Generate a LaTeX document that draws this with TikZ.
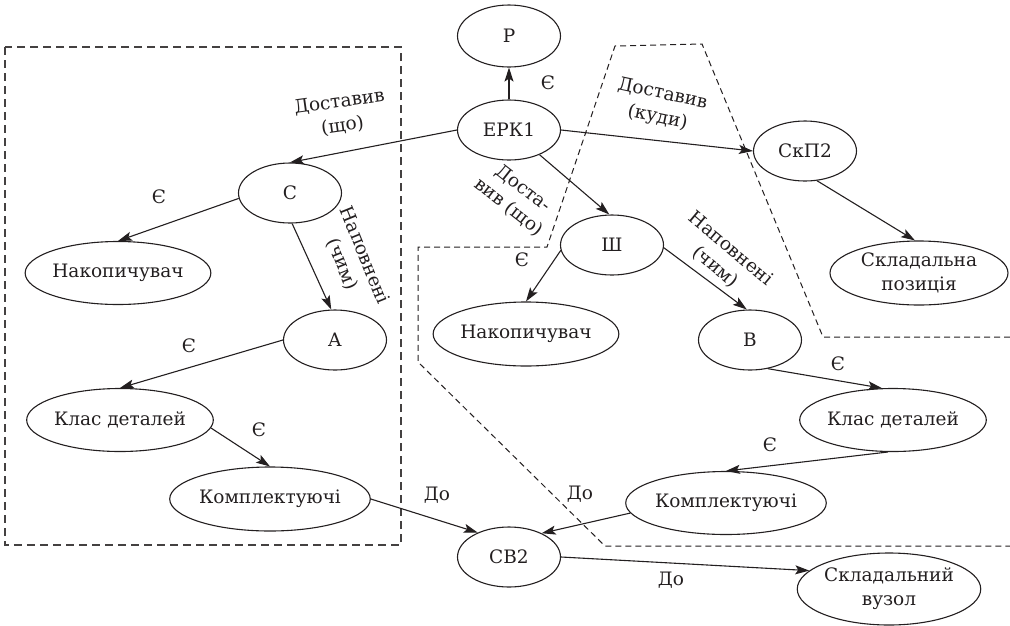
\documentclass[tikz,border=0pt]{standalone}
\usepackage{fontspec}
\setmainfont{DejaVu Serif}
\usetikzlibrary{shapes.geometric,arrows.meta}
\definecolor{ink}{HTML}{231F20}
\begin{document}
\begin{tikzpicture}[x=1pt,y=-1pt,
  font=\fontsize{18.5}{24}\selectfont,
  every node/.style={text=ink},
  concept/.style={draw=ink,line width=1.1pt,ellipse,inner sep=0pt,align=center},
  small/.style={concept,minimum width=103pt,minimum height=60pt},
  wide/.style={concept,minimum width=182pt,minimum height=63pt},
  link/.style={draw=ink,line width=1.1pt,-{Stealth[length=14pt,width=9pt,inset=3pt]}},
  lbl/.style={inner sep=0pt,align=center},
  zoneA/.style={draw=ink!85,line width=1.3pt,dash pattern=on 8pt off 5pt},
  zoneB/.style={draw=ink,line width=1pt,dash pattern=on 6pt off 4pt}]
\useasboundingbox (0,0) rectangle (1010,625);

% dashed zones
\draw[zoneA] (5,47) rectangle (401,545);
\draw[zoneB] (1010,337) -- (823,337) -- (702,44) -- (615,46) -- (547,247)
  -- (418,247) -- (418,362) -- (605,546) -- (1010,546);

% concepts
\node[small,minimum height=62pt] (p) at (509,36) {Р};
\node[small] (erk) at (509,130) {ЕРК1};
\node[small] (c) at (290,193) {С};
\node[wide] (nakl) at (118,273) {Накопичувач};
\node[small] (a) at (335,340) {А};
\node[wide] (klasl) at (120,420) {Клас деталей};
\node[wide,minimum height=64pt] (kompl) at (270,499) {Комплектуючі};
\node[small] (cb) at (509,557) {СВ2};
\node[small] (skp) at (805,151) {СкП2};
\node[wide,minimum width=178pt,minimum height=64pt] (pos) at (919,273) {Складальна\\позиція};
\node[small] (sh) at (612,245) {Ш};
\node[wide,minimum height=64pt] (nakm) at (526,334) {Накопичувач};
\node[small] (b) at (750,340) {В};
\node[wide] (klasr) at (893,420) {Клас деталей};
\node[wide] (kompr) at (726,503) {Комплектуючі};
\node[wide,minimum height=72pt] (vuz) at (889,589) {Складальний\\вузол};

% relations
\draw[link] (erk.north) -- (p.south);
\draw[link] (erk.west) -- (c.north);
\draw[link] (c.186) -- (nakl.north);
\draw[link] (c.-86) -- (a.97);
\draw[link] (a.west) -- (klasl.north);
\draw[link] (klasl.-5) -- (kompl.north);
\draw[link] (kompl.east) -- (cb.142);
\draw[link] (erk.-39) -- (sh.95);
\draw[link] (erk.east) -- (skp.west);
\draw[link] (skp.-68) -- (pos.97);
\draw[link] (sh.186) -- (nakm.north);
\draw[link] (sh.-3) -- (b.96);
\draw[link] (b.-58) -- (klasr.109);
\draw[link] (klasr.-99) -- (kompr.north);
\draw[link] (kompr.186) -- (cb.36);
\draw[link] (cb.east) -- (vuz.167);

% relation labels
\node[lbl] (l1) at (548,83) {Є};
\node[lbl,rotate=8] (l2) at (341,114) {Доставив\\(що)};
\node[lbl] (l3) at (159,197) {Є};
\node[lbl,rotate=-68] (l4) at (353,260) {Наповнені\\(чим)};
\node[lbl] (l5) at (189,346) {Є};
\node[lbl] (l6) at (259,430) {Є};
\node[lbl] (l7) at (437,495) {До};
\node[lbl,rotate=-38] (l8) at (516,198) {Доста-\\вив (що)};
\node[lbl,rotate=-12] (l9) at (660,106) {Доставив\\(куди)};
\node[lbl] (l10) at (522,260) {Є};
\node[lbl,rotate=-40] (l11) at (723,258) {Наповнені\\(чим)};
\node[lbl] (l12) at (838,364) {Є};
\node[lbl] (l13) at (770,445) {Є};
\node[lbl] (l14) at (580,494) {До};
\node[lbl] (l15) at (671,580) {До};
\end{tikzpicture}
\end{document}
